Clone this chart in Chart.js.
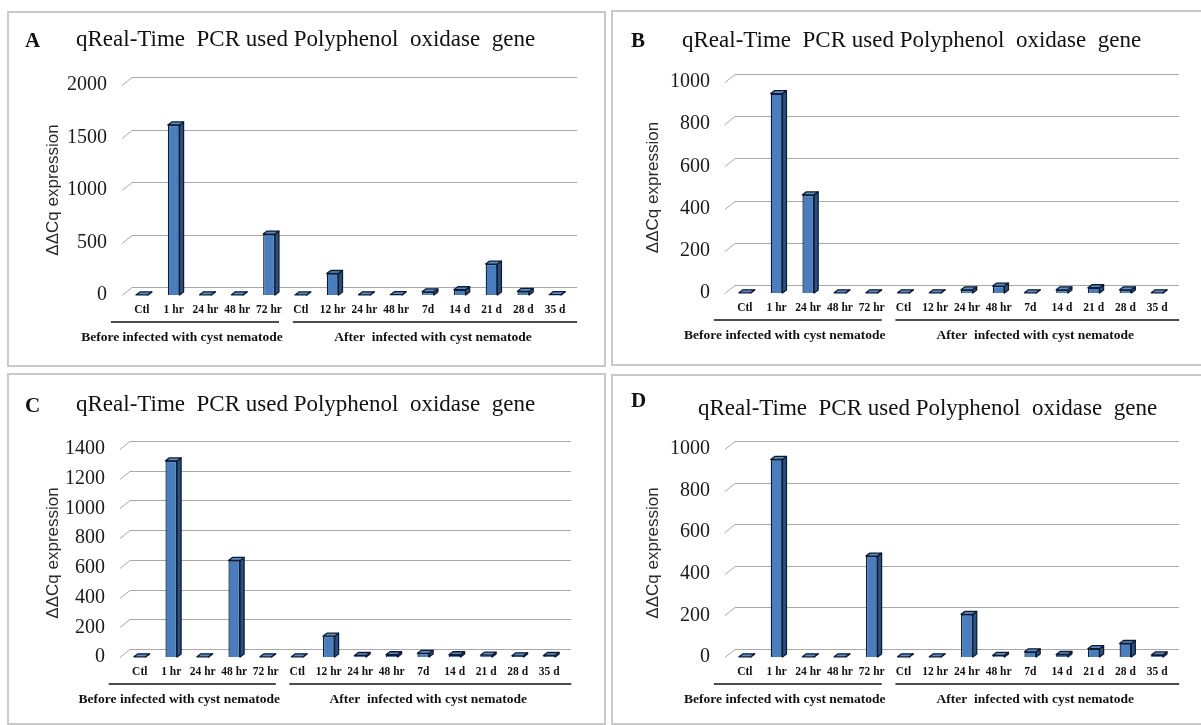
<!DOCTYPE html>
<html>
<head>
<meta charset="utf-8">
<script src="https://cdn.jsdelivr.net/npm/chart.js@4.4.0/dist/chart.umd.min.js"></script>
<style>
  body { margin: 0; background: #fff; width: 1201px; height: 725px; overflow: hidden; position: relative; }
  .frame { position: absolute; border: 2px solid #c9c9c9; box-sizing: border-box; }
  canvas { position: absolute; }
</style>
</head>
<body>
<script>
// ---- data ----
var categories = ['Ctl', '1 hr', '24 hr', '48 hr', '72 hr', 'Ctl', '12 hr', '24 hr', '48 hr', '7d', '14 d', '21 d', '28 d', '35 d'];
var groupLabels = ['Before infected with cyst nematode', 'After  infected with cyst nematode'];
var groupFirst = [0, 5];
var groupLast = [4, 13];
var titleText = 'qReal-Time  PCR used Polyphenol  oxidase  gene';
var yAxisTitle = '\u0394\u0394Cq expression';
var panelLetters = ['A', 'B', 'C', 'D'];

var valuesA = [1, 1620, 2, 2, 580, 1, 205, 2, 3, 30, 50, 295, 35, 3];
var valuesB = [1, 945, 465, 1, 1, 1, 1, 15, 33, 1, 15, 25, 15, 1];
var valuesC = [1, 1320, 1, 650, 1, 1, 140, 10, 15, 25, 15, 12, 8, 10];
var valuesD = [1, 950, 1, 1, 485, 1, 1, 205, 8, 25, 12, 40, 65, 10];

var yMax = [2000, 1000, 1400, 1000];
var yStep = [500, 200, 200, 200];

// ---- layout (page pixels) ----
var layouts = [
  {x: 7, y: 11, w: 599, h: 356, pl: 32, yw: 87, pr: 35, pt: 74, xh: 70, letter: [25, 47], title: [76, 46]},
  {x: 611, y: 10, w: 600, h: 356, pl: 28, yw: 90, pr: 38, pt: 72, xh: 71, letter: [631, 47], title: [682, 47]},
  {x: 7, y: 373, w: 599, h: 352, pl: 32, yw: 85, pr: 41, pt: 76, xh: 66, letter: [25, 412], title: [76, 411]},
  {x: 611, y: 374, w: 600, h: 351, pl: 28, yw: 90, pr: 38, pt: 75, xh: 66, letter: [631, 407], title: [698, 415]}
];

var decor = {
  id: 'decor',
  beforeDatasetsDraw: function(chart) {
    var ctx = chart.ctx, area = chart.chartArea, ys = chart.scales.y;
    ctx.save();
    ctx.strokeStyle = '#a8a8a8';
    ctx.lineWidth = 1;
    ys.ticks.forEach(function(t) {
      var py = Math.round(ys.getPixelForValue(t.value)) + 0.5;
      ctx.beginPath();
      ctx.moveTo(area.left - 4, py);
      ctx.lineTo(area.left + 6, py - 8);
      ctx.lineTo(area.right + 6, py - 8);
      ctx.stroke();
    });
    ctx.restore();
  },
  afterDatasetsDraw: function(chart) {
    var ctx = chart.ctx;
    var dx = 4, dy = -3;
    ctx.save();
    ctx.lineWidth = 1.3;
    ctx.lineJoin = 'round';
    ctx.strokeStyle = '#0e1c33';
    chart.getDatasetMeta(0).data.forEach(function(bar) {
      var l = bar.x - bar.width / 2, r = bar.x + bar.width / 2, t = bar.y, b = bar.base;
      ctx.fillStyle = '#2a5183';
      ctx.beginPath();
      ctx.moveTo(r, t); ctx.lineTo(r + dx, t + dy); ctx.lineTo(r + dx, b + dy); ctx.lineTo(r, b);
      ctx.closePath(); ctx.fill(); ctx.stroke();
      ctx.fillStyle = '#5d8bc6';
      ctx.beginPath();
      ctx.moveTo(l, t); ctx.lineTo(l + dx, t + dy); ctx.lineTo(r + dx, t + dy); ctx.lineTo(r, t);
      ctx.closePath(); ctx.fill(); ctx.stroke();
    });
    ctx.restore();
  },
  afterDraw: function(chart, args, opts) {
    var ctx = chart.ctx, area = chart.chartArea, xs = chart.scales.x;
    ctx.save();
    // panel letter + title
    ctx.fillStyle = '#111';
    ctx.textBaseline = 'alphabetic';
    ctx.textAlign = 'left';
    ctx.font = 'bold 21px "Liberation Serif"';
    ctx.fillText(opts.letter, opts.letterPos[0], opts.letterPos[1]);
    ctx.font = '23px "Liberation Serif"';
    ctx.fillText(titleText, opts.titlePos[0], opts.titlePos[1]);
    // group brackets under the category labels
    ctx.strokeStyle = '#111';
    ctx.lineWidth = 1.5;
    ctx.font = 'bold 13.5px "Liberation Serif"';
    ctx.textAlign = 'center';
    ctx.textBaseline = 'middle';
    var ext = [[-31, 10, -13], [-8, 22, -2]];
    groupLabels.forEach(function(label, i) {
      var x0 = xs.getPixelForValue(groupFirst[i]) + ext[i][0];
      var x1 = xs.getPixelForValue(groupLast[i]) + ext[i][1];
      var ly = area.bottom + 27;
      ctx.beginPath();
      ctx.moveTo(x0, ly);
      ctx.lineTo(x1, ly);
      ctx.stroke();
      ctx.fillText(label, (x0 + x1) / 2 + ext[i][2], area.bottom + 43);
    });
    ctx.restore();
  }
};

function makePanel(i, values) {
  var L = layouts[i];
  var frame = document.createElement('div');
  frame.className = 'frame';
  frame.style.left = L.x + 'px';
  frame.style.top = L.y + 'px';
  frame.style.width = L.w + 'px';
  frame.style.height = L.h + 'px';
  document.body.appendChild(frame);

  var canvas = document.createElement('canvas');
  canvas.width = L.w;
  canvas.height = L.h;
  canvas.style.left = L.x + 'px';
  canvas.style.top = L.y + 'px';
  document.body.appendChild(canvas);

  return new Chart(canvas.getContext('2d'), {
    type: 'bar',
    data: {
      labels: categories,
      datasets: [{
        data: values,
        backgroundColor: '#4a7dbd',
        borderColor: '#0e1c33',
        borderWidth: 1.3,
        barPercentage: 0.37,
        categoryPercentage: 1
      }]
    },
    plugins: [decor],
    options: {
      responsive: false,
      animation: false,
      devicePixelRatio: 1,
      layout: {padding: {left: L.pl, right: L.pr, top: L.pt, bottom: 2}},
      plugins: {
        legend: {display: false},
        tooltip: {enabled: false},
        decor: {
          letter: panelLetters[i],
          letterPos: [L.letter[0] - L.x, L.letter[1] - L.y],
          titlePos: [L.title[0] - L.x, L.title[1] - L.y]
        }
      },
      scales: {
        x: {
          grid: {display: false, drawTicks: false},
          border: {display: false},
          ticks: {
            color: '#111',
            padding: 8,
            maxRotation: 0,
            autoSkip: false,
            font: {family: '"Liberation Serif"', size: 11.5, weight: 'bold'}
          },
          afterFit: function(s) { s.height = L.xh; }
        },
        y: {
          min: 0,
          max: yMax[i],
          grid: {display: false, drawTicks: false},
          border: {display: false},
          ticks: {
            stepSize: yStep[i],
            color: '#1a1a1a',
            padding: 19,
            font: {family: '"Liberation Serif"', size: 20},
            callback: function(v) { return String(v); }
          },
          title: {
            display: true,
            text: yAxisTitle,
            color: '#2a2a2a',
            font: {family: '"Liberation Sans"', size: 17}
          },
          afterFit: function(s) { s.width = L.yw; }
        }
      }
    }
  });
}

makePanel(0, valuesA);
makePanel(1, valuesB);
makePanel(2, valuesC);
makePanel(3, valuesD);
</script>
</body>
</html>
